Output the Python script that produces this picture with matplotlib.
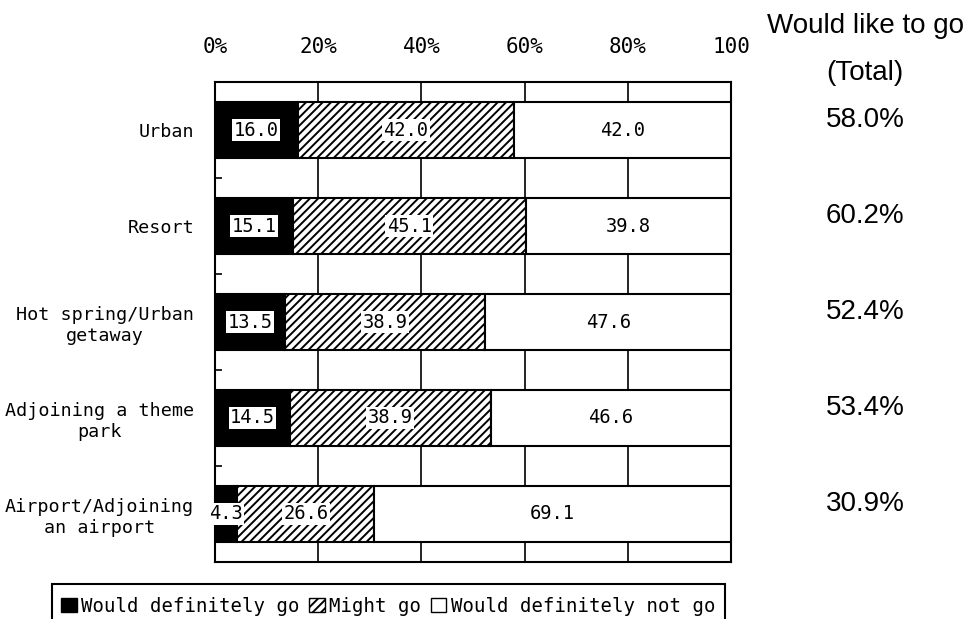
import numpy as np
import matplotlib.pyplot as plt
from matplotlib.patches import Patch, Rectangle

# --- data ---
categories = ["Urban", "Resort", "Hot spring/Urban\ngetaway",
              "Adjoining a theme\npark", "Airport/Adjoining\nan airport"]
definitely_go = [16.0, 15.1, 13.5, 14.5, 4.3]
might_go = [42.0, 45.1, 38.9, 38.9, 26.6]
definitely_not = [42.0, 39.8, 47.6, 46.6, 69.1]
total_like = ["58.0%", "60.2%", "52.4%", "53.4%", "30.9%"]
xtick_vals = [0, 20, 40, 60, 80, 100]
xtick_labels = ["0%", "20%", "40%", "60%", "80%", "100"]
series_names = ["Would definitely go", "Might go", "Would definitely not go"]

plt.rcParams['font.family'] = ['DejaVu Sans Mono']
plt.rcParams['hatch.linewidth'] = 1.4
plt.rcParams['hatch.color'] = 'black'

fig = plt.figure(figsize=(9.8, 6.19), dpi=100)
ax = fig.add_axes([0.2194, 0.0921, 0.5265, 0.7754])

y = np.arange(len(categories))
h = 0.58
lw = 1.5

ax.barh(y, definitely_go, height=h, color='black', edgecolor='black', linewidth=lw, zorder=3)
ax.barh(y, might_go, left=definitely_go, height=h, color='white', edgecolor='black',
        hatch='////', linewidth=lw, zorder=3)
left2 = np.array(definitely_go) + np.array(might_go)
ax.barh(y, definitely_not, left=left2, height=h, color='white', edgecolor='black',
        linewidth=lw, zorder=3)

box = dict(facecolor='white', edgecolor='none', pad=1.0)
for i in range(len(categories)):
    a, b, c = definitely_go[i], might_go[i], definitely_not[i]
    ax.text(a / 2, i, f"{a:.1f}", ha='center', va='center', fontsize=13.5, bbox=box, zorder=5)
    ax.text(a + b / 2, i, f"{b:.1f}", ha='center', va='center', fontsize=13.5, bbox=box, zorder=5)
    ax.text(a + b + c / 2, i, f"{c:.1f}", ha='center', va='center', fontsize=13.5, zorder=5)
    # overall "would like to go" share on the right
    ax.text(126.0, i - 0.1, total_like[i], ha='center', va='center', fontsize=20,
            family='Liberation Sans', clip_on=False)

fig.text(0.8827, 0.958, "Would like to go", ha='center', va='center', fontsize=20,
         family='Liberation Sans')
fig.text(0.8827, 0.882, "(Total)", ha='center', va='center', fontsize=20,
         family='Liberation Sans')

ax.set_xlim(0, 100)
ax.set_ylim(len(categories) - 0.5, -0.5)
ax.xaxis.tick_top()
ax.set_xticks(xtick_vals)
ax.set_xticklabels(xtick_labels, fontsize=15)
ax.tick_params(axis='x', length=0, pad=18)
ax.set_yticks(y)
ax.set_yticklabels(categories, fontsize=13.2, multialignment='center')
ax.tick_params(axis='y', which='major', length=0, pad=15)
ax.set_yticks(y[:-1] + 0.5, minor=True)
ax.tick_params(axis='y', which='minor', direction='in', length=5, width=1.2, left=True)
ax.grid(axis='x', color='black', linewidth=1.2, zorder=0)
ax.set_axisbelow(True)
for s in ax.spines.values():
    s.set_linewidth(lw)
    s.set_color('black')

# legend: entries without frame, plus an open box running off the bottom edge
handles = [Patch(facecolor='black', edgecolor='black'),
           Patch(facecolor='white', edgecolor='black', hatch='////'),
           Patch(facecolor='white', edgecolor='black')]
fig.legend(handles, series_names, loc='center', bbox_to_anchor=(0.3964, 0.021),
           ncol=3, fontsize=13.7, frameon=False,
           handlelength=0.8, handleheight=0.8, handletextpad=0.25, columnspacing=0.5,
           borderpad=0, borderaxespad=0)
fig.patches.append(Rectangle((52 / 980, -0.05), 673 / 980, 0.05 + (1 - 584 / 619),
                             transform=fig.transFigure, facecolor='none',
                             edgecolor='black', linewidth=1.5))

fig.savefig("out.png", dpi=100)
